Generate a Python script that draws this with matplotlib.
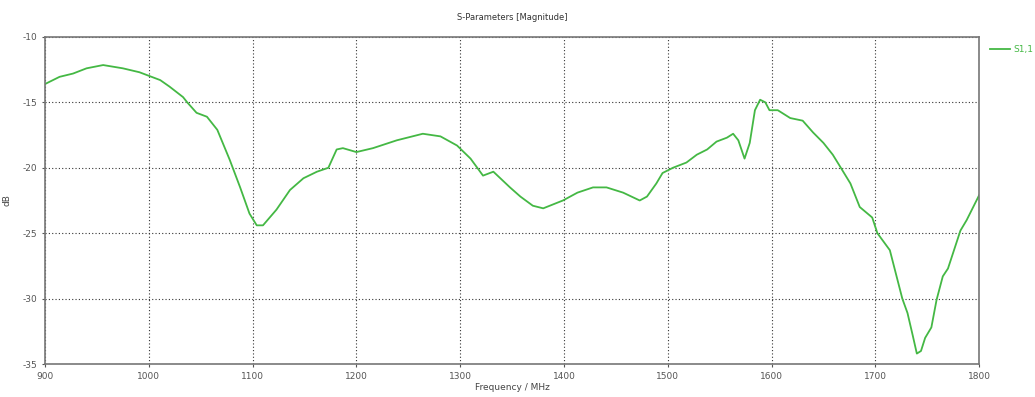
import matplotlib.pyplot as plt

plt.rcParams['axes.unicode_minus'] = False

# S1,1 magnitude
freq = [900, 914, 927, 940, 956, 975, 991, 1001, 1011, 1020, 1033, 1037, 1046, 1056,
        1066, 1078, 1088, 1097, 1104, 1110, 1123, 1136, 1149, 1162, 1173, 1181, 1187,
        1200, 1216, 1239, 1264, 1281, 1297, 1310, 1322, 1332, 1348, 1358, 1370, 1380,
        1399, 1413, 1428, 1441, 1457, 1473, 1480, 1489, 1495, 1505, 1518, 1528, 1538,
        1547, 1557, 1563, 1568, 1574, 1579, 1584, 1589, 1594, 1598, 1606, 1618, 1630,
        1640, 1650, 1659, 1666, 1676, 1685, 1697, 1702, 1714, 1726, 1731, 1736, 1740,
        1744, 1748, 1754, 1759, 1765, 1770, 1782, 1788, 1800]
s11 = [-13.6, -13.05, -12.8, -12.4, -12.15, -12.4, -12.7, -13.0, -13.3, -13.8, -14.6,
       -15.0, -15.8, -16.1, -17.1, -19.4, -21.5, -23.5, -24.4, -24.4, -23.2, -21.7,
       -20.8, -20.3, -20.0, -18.6, -18.5, -18.8, -18.5, -17.9, -17.4, -17.6, -18.3,
       -19.3, -20.6, -20.3, -21.5, -22.2, -22.9, -23.1, -22.5, -21.9, -21.5, -21.5,
       -21.9, -22.5, -22.2, -21.2, -20.4, -20.0, -19.6, -19.0, -18.6, -18.0, -17.7,
       -17.4, -17.9, -19.3, -18.1, -15.6, -14.8, -15.0, -15.6, -15.6, -16.2, -16.4,
       -17.3, -18.1, -19.0, -19.9, -21.2, -23.0, -23.8, -25.0, -26.3, -30.0, -31.1,
       -32.8, -34.2, -34.0, -33.0, -32.2, -30.1, -28.3, -27.7, -24.8, -24.0, -22.1]

xticks = list(range(900, 1801, 100))
yticks = [-35, -30, -25, -20, -15, -10]

fig = plt.figure(figsize=(10.35, 3.97), dpi=100)
ax = fig.add_axes([0.0435, 0.083, 0.9025, 0.824])

ax.plot(freq, s11, color='#44b844', linewidth=1.3, label='S1,1')

ax.set_xlim(900, 1800)
ax.set_ylim(-35, -10)
ax.set_xticks(xticks)
ax.set_yticks(yticks)
ax.tick_params(labelsize=6.5, colors='#555555', length=2, direction='out')
ax.grid(True, linestyle=(0, (1, 2)), color='#333333', linewidth=0.8)
for s in ax.spines.values():
    s.set_color('#777777')
    s.set_linewidth(1.2)

ax.set_title('S-Parameters [Magnitude]', fontsize=6, color='#333333', pad=12)
ax.set_xlabel('Frequency / MHz', fontsize=6.5, color='#444444', labelpad=2)
ax.set_ylabel('dB', fontsize=6.5, color='#444444', labelpad=8)

ax.legend(loc='upper left', bbox_to_anchor=(1.003, 1.0), frameon=False,
          fontsize=6.5, handlelength=2.2, handletextpad=0.4, labelcolor='#44b844')

fig.savefig('out.png', dpi=100)
